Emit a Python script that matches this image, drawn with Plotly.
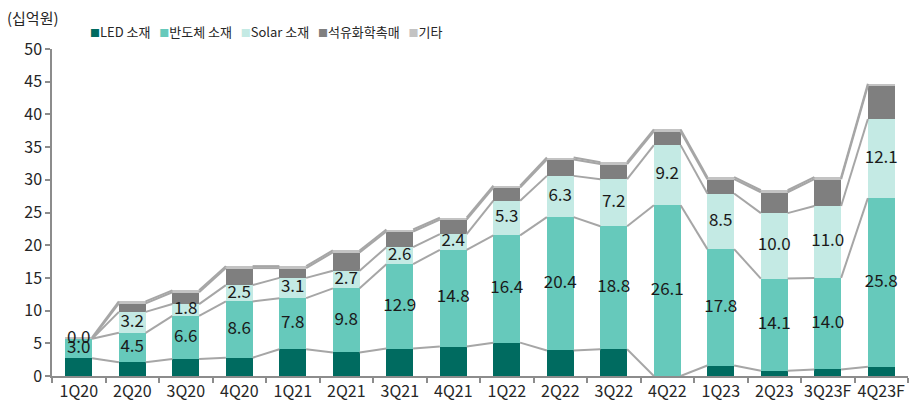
import plotly.graph_objects as go
import numpy as np

categories = ['1Q20', '2Q20', '3Q20', '4Q20', '1Q21', '2Q21', '3Q21', '4Q21',
              '1Q22', '2Q22', '3Q22', '4Q22', '1Q23', '2Q23', '3Q23F', '4Q23F']
led = [2.7, 2.1, 2.6, 2.8, 4.1, 3.6, 4.2, 4.5, 5.1, 3.9, 4.1, 0.0, 1.6, 0.8, 1.0, 1.4]
semi = [3.0, 4.5, 6.6, 8.6, 7.8, 9.8, 12.9, 14.8, 16.4, 20.4, 18.8, 26.1, 17.8, 14.1, 14.0, 25.8]
solar = [0.0, 3.2, 1.8, 2.5, 3.1, 2.7, 2.6, 2.4, 5.3, 6.3, 7.2, 9.2, 8.5, 10.0, 11.0, 12.1]
petro = [0.0, 1.3, 1.8, 2.6, 1.5, 2.8, 2.4, 2.2, 2.0, 2.5, 2.3, 2.1, 2.2, 3.2, 4.1, 5.1]
other = [0.2, 0.3, 0.3, 0.3, 0.3, 0.3, 0.3, 0.3, 0.3, 0.3, 0.3, 0.3, 0.3, 0.3, 0.3, 0.3]

names = ['LED 소재', '반도체 소재', 'Solar 소재', '석유화학촉매', '기타']
colors = ['#006b60', '#66c9bb', '#c4eae4', '#7f7f7f', '#c3c3c3']
series = [led, semi, solar, petro, other]

FONT = "Noto Sans CJK KR"
BAR_W = 0.5
n = len(categories)

fig = go.Figure()
for vals, name, col in zip(series, names, colors):
    fig.add_trace(go.Bar(x=categories, y=vals, name=name, marker_color=col,
                         marker_line_width=0, showlegend=False, hoverinfo='skip'))

# series lines connecting cumulative tops
cum = np.cumsum(np.array(series), axis=0)
for k in range(cum.shape[0]):
    xs, ys = [], []
    for i in range(n - 1):
        xs += [i + BAR_W / 2, i + 1 - BAR_W / 2, None]
        ys += [cum[k][i], cum[k][i + 1], None]
    fig.add_trace(go.Scatter(x=xs, y=ys, xaxis='x2', mode='lines',
                             line=dict(color='#a6a6a6', width=2),
                             showlegend=False, hoverinfo='skip'))

# data labels for semiconductor and solar segments
base = np.array(led)
semi_mid = base + np.array(semi) / 2
solar_mid = base + np.array(semi) + np.array(solar) / 2
for mids, vals in ((semi_mid, semi), (solar_mid, solar)):
    fig.add_trace(go.Scatter(x=categories, y=mids, mode='text',
                             text=[f"{v:.1f}" for v in vals],
                             textfont=dict(family=FONT, size=17, color='#1a1a1a'),
                             showlegend=False, hoverinfo='skip'))

# legend as a single line of text
legend_text = "   ".join(
    f"<span style='color:{c};font-size:10px'>■</span>{nm}" for nm, c in zip(names, colors))
fig.add_annotation(xref='paper', yref='paper', x=0.25, y=1.052, xanchor='center',
                   yanchor='middle', showarrow=False, text=legend_text,
                   font=dict(family=FONT, size=13, color='#262626'))

fig.add_annotation(xref='paper', yref='paper', x=-0.055, y=1.095, xanchor='left',
                   yanchor='middle', showarrow=False, text='(십억원)',
                   font=dict(family=FONT, size=15, color='#262626'))

axis_col = '#8c8c8c'
fig.update_layout(
    width=922, height=409,
    margin=dict(l=52, r=14, t=49, b=33),
    paper_bgcolor='white', plot_bgcolor='white',
    barmode='stack', bargap=1 - BAR_W,
    font=dict(family=FONT, size=16, color='#262626'),
    xaxis=dict(type='category', range=[-0.5, n - 0.5], tickson='boundaries',
               tickangle=0, automargin=False,
               ticks='outside', ticklen=5, tickcolor=axis_col, tickwidth=1.5,
               showline=True, linecolor=axis_col, linewidth=1.5, showgrid=False,
               tickfont=dict(family=FONT, size=16, color='#262626')),
    xaxis2=dict(overlaying='x', range=[-0.5, n - 0.5], visible=False),
    yaxis=dict(range=[0, 50], dtick=5, ticks='outside', ticklen=5, automargin=False,
               tickcolor=axis_col, tickwidth=1.5, showline=True,
               linecolor=axis_col, linewidth=1.5, showgrid=False, zeroline=False,
               tickfont=dict(family=FONT, size=16, color='#262626')),
)

fig.write_html("out.html", config={'displayModeBar': False},
               post_script="document.body.style.margin='0';")
